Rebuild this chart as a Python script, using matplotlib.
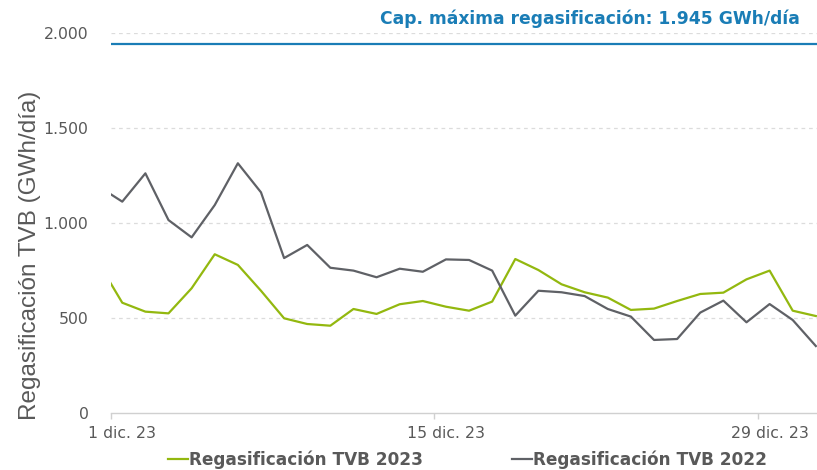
import numpy as np
import pandas as pd
import matplotlib
matplotlib.use("Agg")
import matplotlib.pyplot as plt
import matplotlib.dates as mdates

# ---- data ----
dates = pd.date_range("2023-11-30", "2023-12-31", freq="D")
tvb_2023 = [786, 582, 535, 526, 658, 837, 781, 645, 500, 470, 461,
            549, 523, 574, 591, 561, 540, 588, 812, 754, 679,
            637, 609, 544, 551, 591, 628, 635, 705, 751, 540, 512]
tvb_2022 = [1192, 1114, 1263, 1017, 926, 1096, 1316, 1163, 817, 886, 766,
            751, 716, 761, 745, 810, 807, 751, 514, 645, 637,
            617, 549, 509, 386, 391, 530, 593, 479, 575, 491, 354]
cap_max = 1945
tick_dates = pd.to_datetime(["2023-12-01", "2023-12-15", "2023-12-29"])
tick_labels = ["1 dic. 23", "15 dic. 23", "29 dic. 23"]
y_ticks = [0, 500, 1000, 1500, 2000]
y_labels = ["0", "500", "1.000", "1.500", "2.000"]

GREEN = "#93b80f"
GREY = "#5f6166"
BLUE = "#1a7db6"
TXT = "#595959"

fig = plt.figure(figsize=(8.17, 4.70), dpi=100)
ax = fig.add_axes([110.7 / 817, (470 - 413.3) / 470, (817 - 110.7) / 817, 380 / 470])

half = pd.Timedelta(hours=12)
x = dates + half
ax.plot(x, tvb_2023, color=GREEN, lw=1.6, label="Regasificación TVB 2023")
ax.plot(x, tvb_2022, color=GREY, lw=1.6, label="Regasificación TVB 2022")
ax.axhline(cap_max, color=BLUE, lw=1.6)

x0 = mdates.date2num(pd.Timestamp("2023-12-01"))
ax.set_xlim(x0, x0 + 30.55)
ax.set_ylim(0, 2000)

# grid
ax.set_yticks(y_ticks)
ax.set_yticklabels(y_labels)
for v in y_ticks[1:]:
    ax.axhline(v, color="#dcdcdc", lw=0.9, ls=(0, (3, 3)), zorder=0)

# x ticks: marks at day boundaries, labels centred on the day
ax.set_xticks(mdates.date2num(tick_dates))
ax.set_xticklabels([])
ax.set_xticks(mdates.date2num(tick_dates + half), minor=True)
ax.set_xticklabels(tick_labels, minor=True)
ax.tick_params(axis="x", which="major", length=4, color="#d0d0d0", width=1)
ax.tick_params(axis="x", which="minor", length=0, pad=9, labelsize=11.3, labelcolor=TXT)
ax.tick_params(axis="y", length=0, pad=16, labelsize=11.3, labelcolor=TXT)

for s in ["top", "right", "left"]:
    ax.spines[s].set_visible(False)
ax.spines["bottom"].set_color("#d0d0d0")
ax.spines["bottom"].set_linewidth(1)

fig.text(30.5 / 817, 1 - 255 / 470, "Regasificación TVB (GWh/día)", rotation=90,
         ha="center", va="center", fontsize=17.5, color=TXT, family="Liberation Sans")

fig.text(800 / 817, 1 - 19 / 470, "Cap. máxima regasificación: 1.945 GWh/día",
         ha="right", va="center", fontsize=12.3, fontweight="bold", color=BLUE)

leg = fig.legend(loc="center", bbox_to_anchor=(467.5 / 817, 10 / 470), ncol=2, frameon=False,
                 handlelength=1.18, handletextpad=0.05, columnspacing=5.3,
                 prop={"size": 12.2, "weight": "bold"})
for t in leg.get_texts():
    t.set_color(TXT)

fig.savefig("out.png", dpi=100)
